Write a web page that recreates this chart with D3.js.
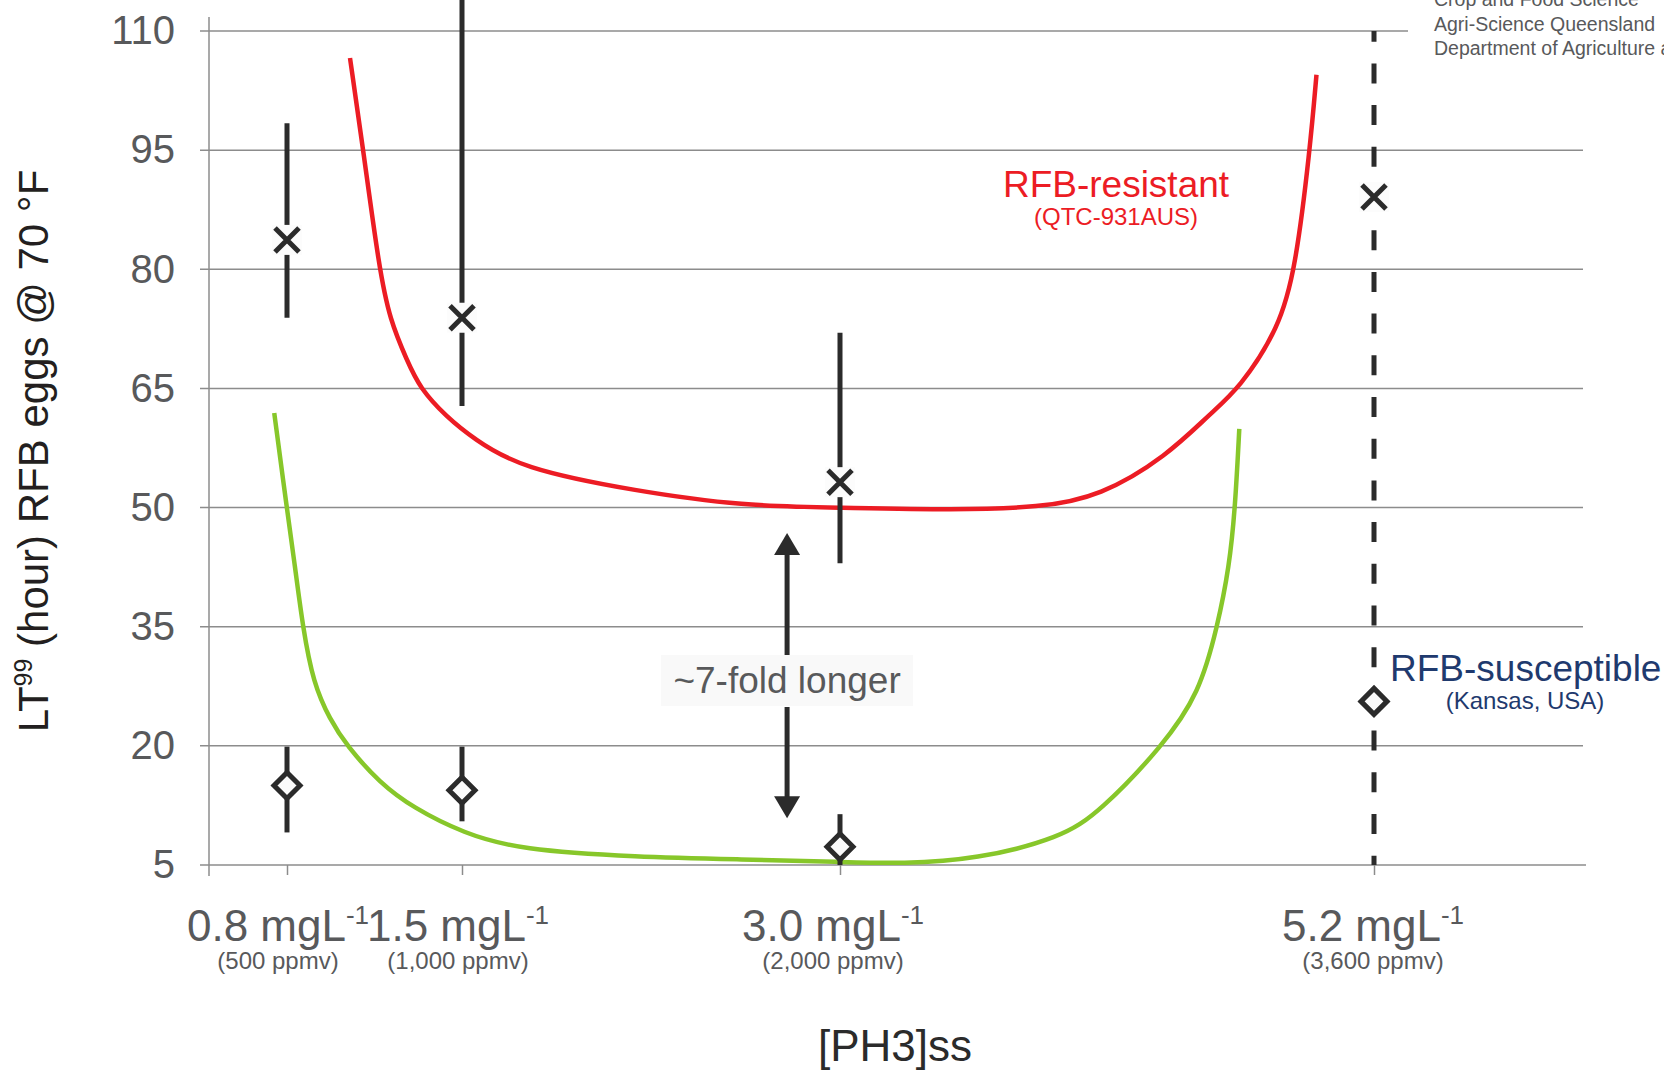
<!DOCTYPE html>
<html>
<head>
<meta charset="utf-8">
<script src="https://cdn.jsdelivr.net/npm/d3@7"></script>
<style>
  html, body { margin: 0; padding: 0; background: #fff; }
  svg { display: block; font-family: "Liberation Sans", Arial, sans-serif; }
</style>
</head>
<body>
<svg id="chart" width="1664" height="1071"></svg>
<script>
// Phosphine concentrations (mg/L) and their ppmv equivalents
const concentrations = [0.8, 1.5, 3.0, 5.2];
const concLabels = ["0.8 mgL", "1.5 mgL", "3.0 mgL", "5.2 mgL"];
const ppmvLabels = ["(500 ppmv)", "(1,000 ppmv)", "(2,000 ppmv)", "(3,600 ppmv)"];
const yTicks = [5, 20, 35, 50, 65, 80, 95, 110];

// LT99 (hours) for the resistant strain, with confidence limits
const resistantLT   = [83.7, 73.9, 53.2, 89.1];
const resistantLow  = [73.9, 62.8, 43.0, null];
const resistantHigh = [98.4, 114.0, 72.0, null];

// LT99 (hours) for the susceptible strain, with confidence limits
const susceptibleLT   = [15.0, 14.4, 7.3, 25.6];
const susceptibleLow  = [9.1, 10.5, 5.0, null];
const susceptibleHigh = [19.9, 19.9, 11.4, null];

// Fitted response curves (concentration, hours)
const resistantCurveC = [1.052, 1.105, 1.169, 1.212, 1.279, 1.332, 1.439, 1.545, 1.730, 2.193, 2.614, 3.0, 3.474, 3.824, 4.071, 4.347, 4.524, 4.646, 4.809, 4.876, 4.936, 4.963];
const resistantCurveH = [106.6, 95.0, 80.0, 73.6, 68.6, 65.0, 61.4, 58.7, 54.95, 52.05, 50.2, 50.0, 49.7, 50.0, 51.4, 56.5, 61.8, 65.0, 72.6, 80.0, 95.0, 104.5];
const susceptibleCurveC = [0.749, 0.799, 0.832, 0.863, 0.905, 0.972, 1.039, 1.172, 1.305, 1.505, 1.730, 2.193, 2.614, 3.0, 3.26, 3.56, 3.91, 4.071, 4.33, 4.48, 4.555, 4.604, 4.628, 4.645];
const susceptibleCurveH = [61.9, 50.0, 42.6, 35.0, 27.9, 23.3, 20.0, 15.3, 12.2, 9.0, 6.9, 6.0, 5.7, 5.4, 5.15, 5.7, 8.4, 11.7, 20.0, 26.6, 35.0, 42.6, 50.0, 59.9];

// Annotation: fold-difference arrow between the two curves
const foldArrowC = 2.79;
const foldArrowRange = [10.9, 46.8];
const foldLabel = "~7-fold longer";

const svg = d3.select("#chart");
const dark = "#2b2b2b";
const gray = "#58595b";
const gridColor = "#8c8c8c";

const plotLeft = 209, plotRight = 1583;
const x = d3.scaleLinear().domain(concentrations).range([287, 462, 840, 1374]);
const y = d3.scaleLinear().domain([5, 110]).range([865, 31]);

svg.append("rect").attr("width", 1664).attr("height", 1071).attr("fill", "#fff");

// Horizontal gridlines (top one stops short of the affiliation block)
svg.append("g").selectAll("line").data(yTicks).join("line")
  .attr("x1", 200)
  .attr("x2", d => d === 110 ? 1408 : (d === 5 ? 1586 : plotRight))
  .attr("y1", d => y(d)).attr("y2", d => y(d))
  .attr("stroke", gridColor).attr("stroke-width", 1.5);

// Y axis line and tick labels
const yAxis = d3.axisLeft(y).tickValues(yTicks).tickSize(0).tickPadding(34);
const gy = svg.append("g").attr("transform", `translate(${plotLeft},0)`).call(yAxis);
gy.select(".domain").remove();
gy.selectAll("text").attr("font-size", 40).attr("fill", gray)
  .attr("font-family", "'Liberation Sans', Arial, sans-serif");
svg.append("line").attr("x1", plotLeft).attr("x2", plotLeft).attr("y1", 17).attr("y2", 876)
  .attr("stroke", gridColor).attr("stroke-width", 1.5);

// X ticks below the axis
const xAxis = d3.axisBottom(x).tickValues(concentrations).tickSize(10).tickFormat("");
const gx = svg.append("g").attr("transform", `translate(0,${y(5)})`).call(xAxis);
gx.select(".domain").remove();
gx.selectAll("line").attr("stroke", gridColor).attr("stroke-width", 1.5);

// X tick labels with superscript and ppmv subtitles
const labelShift = [-9, -4, -7, -1];
const xl = svg.append("g");
concentrations.forEach((c, i) => {
  const t = xl.append("text").attr("x", x(c) + labelShift[i]).attr("y", 941)
    .attr("text-anchor", "middle").attr("font-size", 44).attr("fill", gray);
  t.append("tspan").text(concLabels[i]);
  t.append("tspan").attr("font-size", 26).attr("dy", -17).text("-1");
  xl.append("text").attr("x", x(c) + labelShift[i]).attr("y", 969)
    .attr("text-anchor", "middle").attr("font-size", 24).attr("fill", gray)
    .text(ppmvLabels[i]);
});

// Axis titles
svg.append("text").attr("x", 895).attr("y", 1061).attr("text-anchor", "middle")
  .attr("font-size", 44).attr("fill", dark).text("[PH3]ss");
const yt = svg.append("text").attr("transform", "translate(48,451) rotate(-90)")
  .attr("text-anchor", "middle").attr("font-size", 42).attr("fill", "#231f20");
yt.append("tspan").text("LT");
yt.append("tspan").attr("font-size", 25).attr("dy", -16).text("99");
yt.append("tspan").attr("dy", 16).text(" (hour) RFB eggs @ 70 °F");

// Affiliation block
const aff = ["Crop and Food Science", "Agri-Science Queensland", "Department of Agriculture and Fisheries"];
svg.append("g").selectAll("text").data(aff).join("text")
  .attr("x", 1434).attr("y", (d, i) => 6 + i * 24.5)
  .attr("font-size", 19.5).attr("fill", gray).text(d => d);

// Fitted curves
const line = d3.line().x(d => x(d[0])).y(d => y(d[1])).curve(d3.curveBasis);
svg.append("path").datum(d3.zip(resistantCurveC, resistantCurveH))
  .attr("d", line).attr("fill", "none").attr("stroke", "#ec1c24").attr("stroke-width", 4.5);
svg.append("path").datum(d3.zip(susceptibleCurveC, susceptibleCurveH))
  .attr("d", line).attr("fill", "none").attr("stroke", "#87c72a").attr("stroke-width", 4.5);

// Dashed reference line at the highest concentration
svg.append("line").attr("x1", x(5.2)).attr("x2", x(5.2)).attr("y1", y(110)).attr("y2", y(5))
  .attr("stroke", dark).attr("stroke-width", 5)
  .attr("stroke-dasharray", "20,21.7").attr("stroke-dashoffset", 9.3);

// Error bars
const bars = svg.append("g").attr("stroke", dark).attr("stroke-width", 5);
concentrations.forEach((c, i) => {
  if (resistantLow[i] != null)
    bars.append("line").attr("x1", x(c)).attr("x2", x(c))
      .attr("y1", y(resistantLow[i])).attr("y2", y(resistantHigh[i]));
  if (susceptibleLow[i] != null)
    bars.append("line").attr("x1", x(c)).attr("x2", x(c))
      .attr("y1", y(susceptibleLow[i])).attr("y2", y(susceptibleHigh[i]));
});

// Resistant markers: crosses on a white backing
const crosses = svg.append("g").selectAll("g").data(d3.zip(concentrations, resistantLT)).join("g")
  .attr("transform", d => `translate(${x(d[0])},${y(d[1])})`);
crosses.append("rect").attr("x", -15).attr("y", -15).attr("width", 30).attr("height", 30).attr("fill", "#fcfcfc");
crosses.append("path").attr("d", "M-12,-12L12,12M-12,12L12,-12")
  .attr("stroke", dark).attr("stroke-width", 5).attr("fill", "none");

// Susceptible markers: open diamonds
svg.append("g").selectAll("path").data(d3.zip(concentrations, susceptibleLT)).join("path")
  .attr("transform", d => `translate(${x(d[0])},${y(d[1])})`)
  .attr("d", "M0,-13L13,0L0,13L-13,0Z")
  .attr("fill", "#fafafa").attr("stroke", dark).attr("stroke-width", 5);

// Fold-difference arrow with label
const ax = x(foldArrowC);
const yTop = y(foldArrowRange[1]), yBot = y(foldArrowRange[0]);
const arrow = svg.append("g").attr("fill", dark).attr("stroke", dark);
arrow.append("line").attr("x1", ax).attr("x2", ax).attr("y1", yTop + 20).attr("y2", 655).attr("stroke-width", 5);
arrow.append("line").attr("x1", ax).attr("x2", ax).attr("y1", 707).attr("y2", yBot - 20).attr("stroke-width", 5);
arrow.append("path").attr("stroke", "none")
  .attr("d", `M${ax},${yTop}L${ax + 13},${yTop + 22}L${ax - 13},${yTop + 22}Z`);
arrow.append("path").attr("stroke", "none")
  .attr("d", `M${ax},${yBot}L${ax + 13},${yBot - 22}L${ax - 13},${yBot - 22}Z`);
svg.append("rect").attr("x", 661).attr("y", 655).attr("width", 252).attr("height", 51).attr("fill", "#f9f9f9");
svg.append("text").attr("x", ax).attr("y", 693).attr("text-anchor", "middle")
  .attr("font-size", 37).attr("fill", gray).text(foldLabel);

// Strain labels
svg.append("text").attr("x", 1116).attr("y", 197).attr("text-anchor", "middle")
  .attr("font-size", 37).attr("fill", "#ec1c24").text("RFB-resistant");
svg.append("text").attr("x", 1116).attr("y", 225).attr("text-anchor", "middle")
  .attr("font-size", 24).attr("fill", "#ec1c24").text("(QTC-931AUS)");
svg.append("text").attr("x", 1390).attr("y", 681)
  .attr("font-size", 37).attr("fill", "#1f3a6e").text("RFB-susceptible");
svg.append("text").attr("x", 1525).attr("y", 709).attr("text-anchor", "middle")
  .attr("font-size", 24).attr("fill", "#1f3a6e").text("(Kansas, USA)");
</script>
</body>
</html>
